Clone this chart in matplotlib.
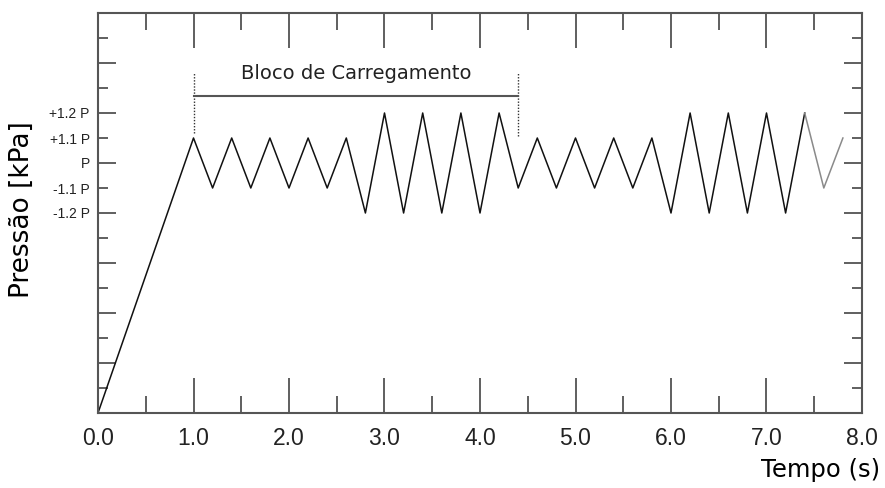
import matplotlib.pyplot as plt
from matplotlib.ticker import MultipleLocator, FixedLocator, FixedFormatter

# loading history (time in s, level in plot units where 10 = P)
t = [0.0, 1.0, 1.2, 1.4, 1.6, 1.8, 2.0, 2.2, 2.4, 2.6, 2.8, 3.0, 3.2, 3.4, 3.6, 3.8, 4.0,
     4.2, 4.4, 4.6, 4.8, 5.0, 5.2, 5.4, 5.6, 5.8, 6.0, 6.2, 6.4, 6.6, 6.8, 7.0, 7.2, 7.4]
p = [0, 11, 9, 11, 9, 11, 9, 11, 9, 11, 8, 12, 8, 12, 8, 12, 8,
     12, 9, 11, 9, 11, 9, 11, 9, 11, 8, 12, 8, 12, 8, 12, 8, 12]
# continuation drawn in grey
t_tail = [7.4, 7.6, 7.8]
p_tail = [12, 9, 11]

ytick_pos = [8, 10, 12]
ytick_lab = ['-1.2 P', 'P', '+1.2 P']
yminor_pos = [9, 11]
yminor_lab = ['-1.1 P', '+1.1 P']
xtick_pos = [0, 1, 2, 3, 4, 5, 6, 7, 8]
xtick_lab = ['0.0', '1.0', '2.0', '3.0', '4.0', '5.0', '6.0', '7.0', '8.0']

block_start, block_end = 1.0, 4.4

fig = plt.figure(figsize=(8.85, 4.88), dpi=100)
ax = fig.add_axes([98/885, 75/488, 764/885, 400/488])

ax.plot(t, p, color='#111111', lw=1.1)
ax.plot(t_tail, p_tail, color='#8a8a8a', lw=1.1)

# bracket for the load block
ax.plot([block_start, block_start], [11.2, 13.6], color='#333333', lw=1, ls=(0, (1, 1.2)))
ax.plot([block_end, block_end], [11.1, 13.6], color='#333333', lw=1, ls=(0, (1, 1.2)))
ax.plot([block_start, block_end], [12.7, 12.7], color='#555555', lw=1.5)
ax.text((block_start + block_end) / 2, 13.2, 'Bloco de Carregamento', ha='center', va='bottom',
        fontsize=14, color='#222222', family='DejaVu Sans')

ax.set_xlim(0, 8)
ax.set_ylim(0, 16)

ax.xaxis.set_major_locator(FixedLocator(xtick_pos))
ax.xaxis.set_major_formatter(FixedFormatter(xtick_lab))
ax.xaxis.set_minor_locator(MultipleLocator(0.5))

ax.yaxis.set_major_locator(FixedLocator(list(range(0, 17, 2))))
ax.yaxis.set_major_formatter(FixedFormatter([ytick_lab[ytick_pos.index(v)] if v in ytick_pos else ''
                                              for v in range(0, 17, 2)]))
ax.yaxis.set_minor_locator(FixedLocator(list(range(1, 17, 2))))
ax.yaxis.set_minor_formatter(FixedFormatter([yminor_lab[yminor_pos.index(v)] if v in yminor_pos else ''
                                              for v in range(1, 17, 2)]))

ax.tick_params(axis='x', which='major', direction='in', length=25, width=1.2, color='#444444',
               top=True, pad=10, labelsize=16.5, labelcolor='#222222', labelfontfamily='Liberation Sans')
ax.tick_params(axis='x', which='minor', direction='in', length=12, width=1.2, color='#444444', top=True)
ax.tick_params(axis='y', which='major', direction='in', length=13, width=1.2, color='#444444',
               right=True, pad=6, labelsize=10, labelcolor='#222222', labelfontfamily='Liberation Sans')
ax.tick_params(axis='y', which='minor', direction='in', length=7, width=1.2, color='#444444',
               right=True, pad=6, labelsize=10, labelcolor='#222222', labelfontfamily='Liberation Sans')

for s in ax.spines.values():
    s.set_color('#555555')
    s.set_linewidth(1.5)

fig.text(22/885, 1 - 210/488, 'Pressão [kPa]', rotation=90, ha='center', va='center',
         fontsize=19, family='DejaVu Sans')
fig.text(880/885, 1 - 470/488, 'Tempo (s)', ha='right', va='center',
         fontsize=17.5, family='DejaVu Sans')

fig.savefig('out.png', dpi=100)
